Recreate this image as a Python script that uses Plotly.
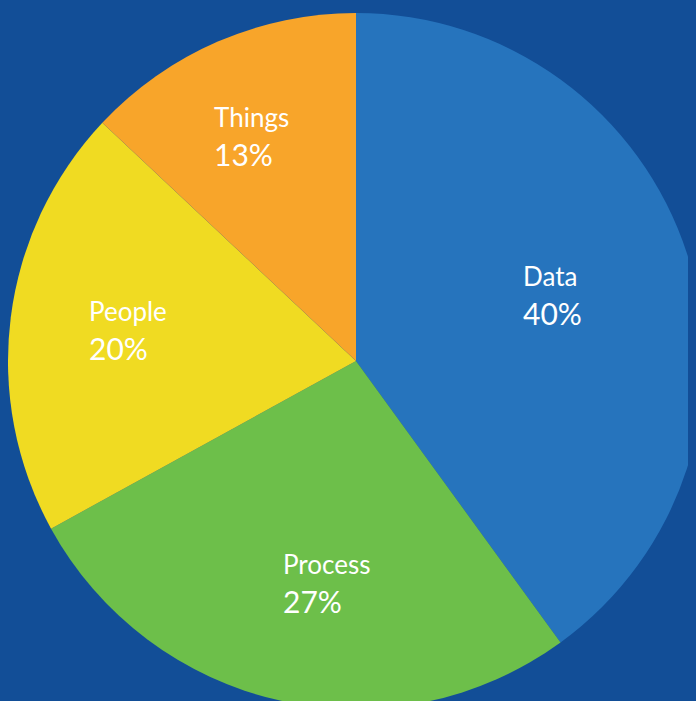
import math
import plotly.graph_objects as go

categories = ["Data", "Process", "People", "Things"]
values = [40, 27, 20, 13]

# styles (kept separate from the data)
colors = ["#2674bd", "#6dbf4a", "#f0db22", "#f8a52a"]
label_radius = [0.595, 0.645, 0.66, 0.71]   # fraction of the pie radius
label_turn = [-0.5, -5.0, 0.5, -1.5]        # degrees added to each slice's mid-angle
BG = "#124e97"
W, H = 696, 706
R_PX = min(W, H) / 2

fig = go.Figure(go.Pie(
    labels=categories,
    values=values,
    sort=False,
    direction="clockwise",
    rotation=0,
    marker=dict(colors=colors, line=dict(width=0)),
    textinfo="none",
    hoverinfo="label+percent",
    showlegend=False,
))

total = sum(values)
cum = 0
for cat, val, rf, turn in zip(categories, values, label_radius, label_turn):
    mid = (cum + val / 2) / total * 2 * math.pi + math.radians(turn)
    cum += val
    x = 0.5 + rf * R_PX * math.sin(mid) / W
    y = 0.5 + rf * R_PX * math.cos(mid) / H
    pct = round(val / total * 100)
    fig.add_annotation(
        x=x, y=y, xref="paper", yref="paper",
        text=f"<span style='font-size:26px'>{cat}</span><br>{pct}%",
        showarrow=False, align="left", xanchor="center", yanchor="middle",
        font=dict(family="Lato", size=30, color="white"),
    )

fig.update_layout(
    width=W, height=H,
    margin=dict(l=0, r=0, t=0, b=0),
    paper_bgcolor=BG,
    plot_bgcolor=BG,
)
fig.write_html(
    "out.html",
    post_script=f"document.body.style.background='{BG}';"
                f"document.documentElement.style.background='{BG}';"
                "document.body.style.overflow='hidden';",
)
